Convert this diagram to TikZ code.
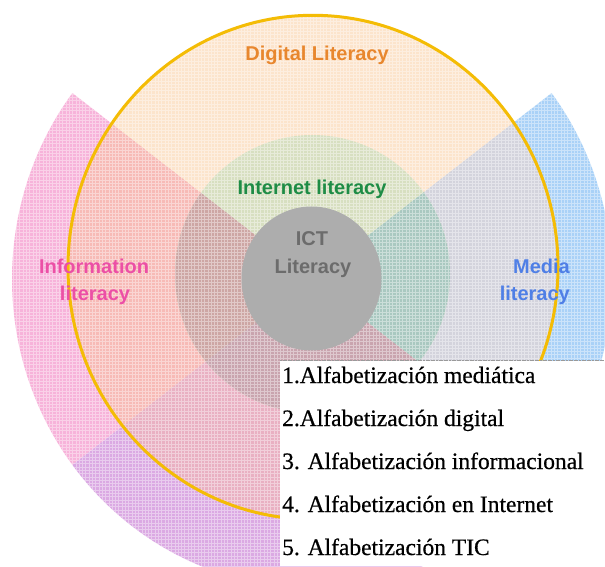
\documentclass[tikz,border=0pt]{standalone}
\usepackage{fontspec}
\setmainfont{Liberation Serif}
\newfontfamily\labelfont{Liberation Sans}
\newfontfamily\legendfont{Liberation Serif}[UprightFeatures={FakeBold=0.6}]
\usetikzlibrary{calc}

% fills of the single areas and of their overlaps
\definecolor{peach}{HTML}{FCE4CC}
\definecolor{pinkO}{HTML}{F7B3DA}
\definecolor{blueO}{HTML}{A9D1F7}
\definecolor{purpO}{HTML}{DBA9E3}
\definecolor{pinkP}{HTML}{F7BAB6}
\definecolor{blueP}{HTML}{D3D3DC}
\definecolor{purpP}{HTML}{E9B0C2}
\definecolor{greenP}{HTML}{D7DFC0}
\definecolor{greenPink}{HTML}{CDA6A4}
\definecolor{greenBlue}{HTML}{A9C8C0}
\definecolor{greenPurp}{HTML}{C9A4AE}
\definecolor{ictgrey}{HTML}{ADADAD}
\definecolor{gold}{HTML}{F4BC05}
% label colours
\definecolor{txtOrange}{HTML}{E8872E}
\definecolor{txtGreen}{HTML}{1E8C46}
\definecolor{txtGrey}{HTML}{6C6C6C}
\definecolor{txtPink}{HTML}{EC4FA6}
\definecolor{txtBlue}{HTML}{4F7FE6}
\definecolor{rulegrey}{HTML}{9A9A9A}

% a sector of the outer ring, between two angles
\newcommand\ringsector[2]{(C) -- ($(C)+(#1:300pt and 309pt)$)
  arc[start angle=#1, end angle=#2, x radius=300pt, y radius=309pt] -- cycle}
\newcommand\digitaldisk{(Yc) ellipse [x radius=245pt, y radius=252pt]}
\newcommand\internetdisk{(Gc) ellipse [x radius=137.5pt, y radius=139pt]}

\begin{document}
\begin{tikzpicture}[x=1pt,y=1pt,
  areaname/.style={font=\labelfont\bfseries\fontsize{20}{24}\selectfont, inner sep=0pt},
  legendline/.style={font=\legendfont\fontsize{23.5}{28}\selectfont, inner sep=0pt, anchor=base west, text=black}]
\useasboundingbox (0,0) rectangle (605,566);
\fill[white] (0,0) rectangle (605,566);

\coordinate (C) at (312,287);
\coordinate (Yc) at (313,298.7);
\coordinate (Gc) at (312.5,292);
\coordinate (Ic) at (311.5,287.5);

% outer sectors: information, media and the lower one
\fill[pinkO] \ringsector{143}{217};
\fill[purpO] \ringsector{217}{323};
\fill[blueO] \ringsector{-37}{37};

% digital literacy disk and its overlaps with the sectors
\fill[peach] \digitaldisk;
\begin{scope}
  \clip \digitaldisk;
  \fill[pinkP] \ringsector{143}{217};
  \fill[purpP] \ringsector{217}{323};
  \fill[blueP] \ringsector{-37}{37};
\end{scope}

% internet literacy disk and its overlaps
\fill[greenP] \internetdisk;
\begin{scope}
  \clip \internetdisk;
  \fill[greenPink] \ringsector{143}{217};
  \fill[greenPurp] \ringsector{217}{323};
  \fill[greenBlue] \ringsector{-37}{37};
\end{scope}

% fine mesh texture over the coloured areas
\draw[white, opacity=.4, line width=.7, step=3.3] (0,0) grid (605,566);

% ICT literacy core
\fill[ictgrey] (Ic) ellipse [x radius=70pt, y radius=72pt];

% outline of the digital literacy disk
\draw[gold, line width=3] \digitaldisk;

% area labels
\node[areaname, text=txtOrange, anchor=base] (digital) at (317,505) {Digital Literacy};
\node[areaname, text=txtGreen, anchor=base] (internet) at (312,371) {Internet literacy};
\node[areaname, text=txtGrey, anchor=base] (ict1) at (312,321) {ICT};
\node[areaname, text=txtGrey, anchor=base] (ict2) at (313,293) {Literacy};
\node[areaname, text=txtPink, anchor=base] (info1) at (94,293) {Information};
\node[areaname, text=txtPink, anchor=base] (info2) at (95,266) {literacy};
\node[areaname, text=txtBlue, anchor=base east] (media1) at (570,293) {Media};
\node[areaname, text=txtBlue, anchor=base east] (media2) at (570,266) {literacy};

% legend panel
\coordinate (boxNW) at (280,205.5);
\coordinate (boxNE) at (605,205.5);
\fill[white] (280,0) rectangle (605,205.5);
\draw[rulegrey, line width=1.2, dash pattern=on 2pt off 0.6pt] (boxNW) -- (boxNE);

\node[legendline] (l1) at (282,183) {1.Alfabetización mediática};
\node[legendline] (l2) at (282,140) {2.Alfabetización digital};
\node[legendline] (l3) at (282,97) {3. Alfabetización informacional};
\node[legendline] (l4) at (282,54) {4. Alfabetización en Internet};
\node[legendline] (l5) at (282,11) {5. Alfabetización TIC};
\end{tikzpicture}
\end{document}
